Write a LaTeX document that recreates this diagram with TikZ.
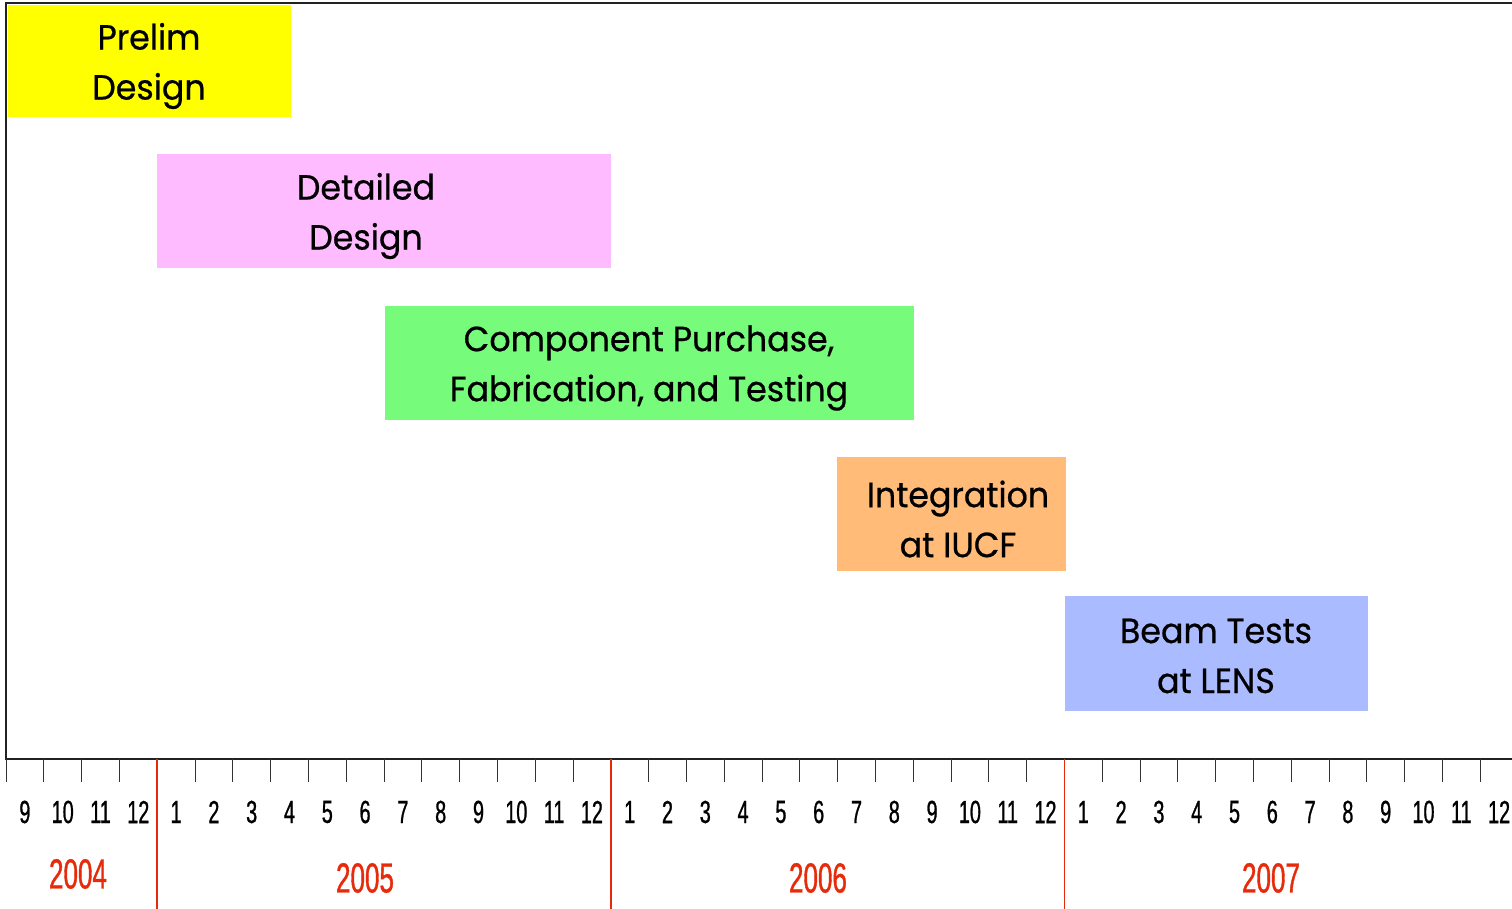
\documentclass[tikz,border=0pt]{standalone}
\usepackage{fontspec}
\newfontfamily\boxfont[FakeStretch=0.95,FakeBold=0.6]{Poppins}
\newfontfamily\condfont[FakeStretch=0.62,FakeBold=0.8]{Liberation Sans}
\definecolor{cyellow}{HTML}{FFFF00}
\definecolor{cpink}{HTML}{FFBBFF}
\definecolor{cgreen}{HTML}{77FB7A}
\definecolor{corange}{HTML}{FFBB77}
\definecolor{cblue}{HTML}{AABBFF}
\definecolor{cred}{HTML}{E62A0A}
\definecolor{cframe}{HTML}{222222}
\begin{document}
\begin{tikzpicture}[x=0.5pt,y=-0.5pt,
  bar/.style={rectangle, inner sep=0pt, outer sep=0pt, draw=none},
  bartext/.style={inner sep=0pt, align=center, font=\boxfont\fontsize{17.5}{25}\selectfont},
  frameline/.style={draw=cframe, line width=1pt},
  tickline/.style={draw=black!80, line width=0.5pt},
  yearline/.style={draw=cred, line width=0.8pt},
  monthlab/.style={inner sep=0pt, font=\condfont\fontsize{16}{16}\selectfont},
  yearlab/.style={inner sep=0pt, text=cred, font=\condfont\fontsize{21}{21}\selectfont}]
\useasboundingbox (0,0) rectangle (1512,909);
\fill[white] (0,0) rectangle (1512,909);

% bars
\node[bar, fill=cyellow, minimum width=141.5pt, minimum height=56pt] (prelim) at (149.5,61) {};
\node[bartext] (prelimT) at (149,66) {Prelim\\Design};

\node[bar, fill=cpink, minimum width=227pt, minimum height=57pt] (detail) at (384,211) {};
\node[bartext] (detailT) at (366,216) {Detailed\\Design};

\node[bar, fill=cgreen, minimum width=264.5pt, minimum height=57pt] (comp) at (649.5,363) {};
\node[bartext] (compT) at (649,368) {Component Purchase,\\Fabrication, and Testing};

\node[bar, fill=corange, minimum width=114.5pt, minimum height=57pt] (integ) at (951.5,514) {};
\node[bartext] (integT) at (958,519) {Integration\\at IUCF};

\node[bar, fill=cblue, minimum width=151.5pt, minimum height=57.5pt] (beam) at (1216.5,653.5) {};
\node[bartext] (beamT) at (1216,656) {Beam Tests\\at LENS};

% frame
\coordinate (tr) at (1512,3);
\coordinate (tl) at (6,3);
\coordinate (bl) at (6,759);
\coordinate (br) at (1512,759);
\draw[frameline] (tr) -- (tl) -- (bl) -- (br);

% ticks
\foreach \k in {0,...,39}
  \draw[tickline] ({6+37.8*\k},759) -- ++(0,23);
% year separators
\foreach \k in {4,16,28}
  \draw[yearline] ({6+37.8*\k},759) -- ({6+37.8*\k},909);

% month labels
\foreach \m [count=\c] in {9,10,11,12,1,2,3,4,5,6,7,8,9,10,11,12,1,2,3,4,5,6,7,8,9,10,11,12,1,2,3,4,5,6,7,8,9,10,11,12}
  \node[monthlab] (m\c) at ({6+37.8*(\c-0.5)},812) {\m};

% year labels
\node[yearlab] (y2004) at (78,874) {2004};
\node[yearlab] (y2005) at (365,878) {2005};
\node[yearlab] (y2006) at (818,878) {2006};
\node[yearlab] (y2007) at (1271,878) {2007};
\end{tikzpicture}
\end{document}
